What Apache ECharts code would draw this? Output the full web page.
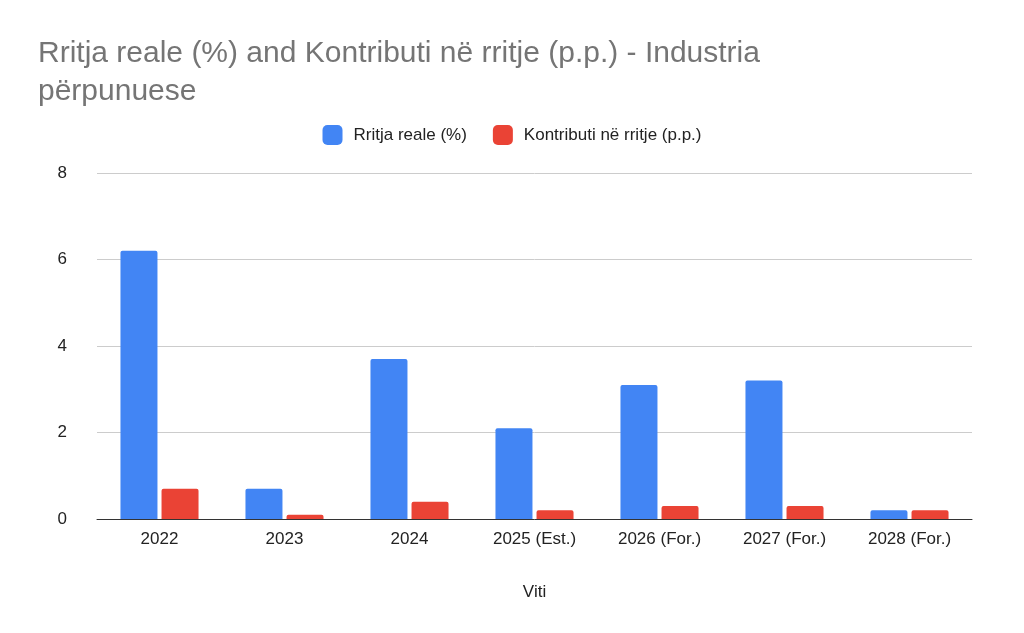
<!DOCTYPE html>
<html><head><meta charset="utf-8">
<script src="https://cdn.jsdelivr.net/npm/echarts@6/dist/echarts.min.js"></script>
<style>html,body{margin:0;padding:0;background:#fff}#c{width:1024px;height:633px}</style>
</head><body><div id="c"></div>
<script>
var categories = ['2022','2023','2024','2025 (Est.)','2026 (For.)','2027 (For.)','2028 (For.)'];
var rritja = [6.2, 0.7, 3.7, 2.1, 3.1, 3.2, 0.2];
var kontributi = [0.7, 0.1, 0.4, 0.2, 0.3, 0.3, 0.2];
var yTicks = [0, 2, 4, 6, 8];

var chart = echarts.init(document.getElementById('c'));
chart.setOption({
  animation: false,
  textStyle: { fontFamily: '"Liberation Sans", Arial, sans-serif' },
  title: {
    text: 'Rritja reale (%) and Kontributi në rritje (p.p.) - Industria\npërpunuese',
    left: 33, top: 30,
    textStyle: { fontSize: 30, fontWeight: 'normal', color: '#757575', lineHeight: 38, fontFamily: '"Liberation Sans", Arial, sans-serif' }
  },
  legend: {
    top: 120, left: 'center', itemWidth: 20, itemHeight: 20, itemGap: 26,
    icon: 'roundRect',
    textStyle: { fontSize: 17, color: '#222', padding: [0, 0, 0, 6] },
    data: ['Rritja reale (%)', 'Kontributi në rritje (p.p.)']
  },
  grid: { left: 97, right: 52, top: 173, bottom: 114 },
  xAxis: {
    type: 'category', data: categories, name: 'Viti', nameLocation: 'middle', nameGap: 65,
    nameTextStyle: { fontSize: 17, color: '#222' },
    axisTick: { show: false },
    axisLine: { lineStyle: { color: '#333' } },
    axisLabel: { fontSize: 17, color: '#222', margin: 12 }
  },
  yAxis: {
    type: 'value', min: yTicks[0], max: yTicks[yTicks.length - 1], interval: 2,
    axisLabel: { fontSize: 17, color: '#222', margin: 30 },
    splitLine: { lineStyle: { color: '#ccc' } }
  },
  series: [
    { name: 'Rritja reale (%)', type: 'bar', data: rritja, barWidth: 37, barGap: '11%',
      itemStyle: { color: '#4285f4', borderRadius: [2,2,0,0] } },
    { name: 'Kontributi në rritje (p.p.)', type: 'bar', data: kontributi, barWidth: 37,
      itemStyle: { color: '#ea4335', borderRadius: [2,2,0,0] } }
  ]
});
</script></body></html>
